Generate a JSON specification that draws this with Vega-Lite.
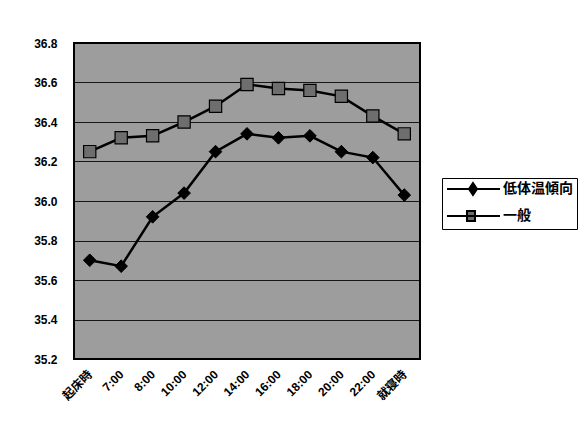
{
  "$schema": "https://vega.github.io/schema/vega-lite/v6.json",
  "autosize": {"type": "none"},
  "padding": {"left": 74, "top": 43, "right": 162, "bottom": 75},
  "width": 346,
  "height": 316,
  "background": "white",
  "config": {
    "view": {"fill": "#9d9d9d", "stroke": "#000000", "strokeWidth": 2},
    "font": "Liberation Sans"
  },
  "data": {
    "values": [
      {"time": "起床時", "series": "低体温傾向", "temp": 35.70},
      {"time": "7:00", "series": "低体温傾向", "temp": 35.67},
      {"time": "8:00", "series": "低体温傾向", "temp": 35.92},
      {"time": "10:00", "series": "低体温傾向", "temp": 36.04},
      {"time": "12:00", "series": "低体温傾向", "temp": 36.25},
      {"time": "14:00", "series": "低体温傾向", "temp": 36.34},
      {"time": "16:00", "series": "低体温傾向", "temp": 36.32},
      {"time": "18:00", "series": "低体温傾向", "temp": 36.33},
      {"time": "20:00", "series": "低体温傾向", "temp": 36.25},
      {"time": "22:00", "series": "低体温傾向", "temp": 36.22},
      {"time": "就寝時", "series": "低体温傾向", "temp": 36.03},
      {"time": "起床時", "series": "一般", "temp": 36.25},
      {"time": "7:00", "series": "一般", "temp": 36.32},
      {"time": "8:00", "series": "一般", "temp": 36.33},
      {"time": "10:00", "series": "一般", "temp": 36.40},
      {"time": "12:00", "series": "一般", "temp": 36.48},
      {"time": "14:00", "series": "一般", "temp": 36.59},
      {"time": "16:00", "series": "一般", "temp": 36.57},
      {"time": "18:00", "series": "一般", "temp": 36.56},
      {"time": "20:00", "series": "一般", "temp": 36.53},
      {"time": "22:00", "series": "一般", "temp": 36.43},
      {"time": "就寝時", "series": "一般", "temp": 36.34}
    ]
  },
  "encoding": {
    "x": {
      "field": "time",
      "type": "nominal",
      "sort": null,
      "scale": {"type": "point", "padding": 0.5},
      "axis": {
        "title": null,
        "labelAngle": -45,
        "labelAlign": "right",
        "labelBaseline": "middle",
        "labelFont": "Liberation Sans, Noto Sans CJK JP",
        "labelFontWeight": "bold",
        "labelFontSize": 12,
        "labelColor": "#000000",
        "labelPadding": 13,
        "labelDx": -7,
        "labelOverlap": false,
        "ticks": false,
        "domain": false,
        "grid": false
      }
    },
    "y": {
      "field": "temp",
      "type": "quantitative",
      "scale": {"domain": [35.2, 36.8], "nice": false, "zero": false},
      "axis": {
        "title": null,
        "values": [35.2, 35.4, 35.6, 35.8, 36.0, 36.2, 36.4, 36.6, 36.8],
        "format": ".1f",
        "labelFont": "Liberation Sans",
        "labelFontWeight": "bold",
        "labelFontSize": 12,
        "labelColor": "#000000",
        "labelPadding": 17,
        "ticks": false,
        "domain": false,
        "grid": true,
        "gridColor": "#000000",
        "gridWidth": 1,
        "gridOpacity": 0.85
      }
    }
  },
  "layer": [
    {
      "mark": {"type": "line", "strokeWidth": 2.5},
      "encoding": {
        "stroke": {
          "field": "series",
          "type": "nominal",
          "scale": {"domain": ["低体温傾向", "一般"], "range": ["#000000", "#000000"]},
          "legend": {
            "title": null,
            "orient": "none",
            "legendX": 368,
            "legendY": 135,
            "strokeColor": "#000000",
            "fillColor": "#ffffff",
            "padding": 4,
            "rowPadding": 8,
            "symbolSize": 144,
            "symbolStrokeWidth": 2,
            "labelFont": "Noto Sans CJK JP",
            "labelFontWeight": "bold",
            "labelFontSize": 14,
            "labelColor": "#000000",
            "labelOffset": 43,
            "encode": {
              "symbols": {
                "update": {
                  "shape": {"signal": "datum.value == '一般' ? 'M-1,0H7.83M2.33,-0.83H3.67V0.83H2.33Z' : 'M-1,0H7.83M3.33,-1L4,0L3.33,1L2.66,0Z'"},
                  "fill": {"signal": "datum.value == '一般' ? '#6e6e6e' : '#000000'"},
                  "stroke": {"value": "#000000"},
                  "strokeWidth": {"value": 2}
                }
              }
            }
          }
        }
      }
    },
    {
      "transform": [{"filter": "datum.series == '低体温傾向'"}],
      "mark": {"type": "point", "shape": "diamond", "filled": true, "fill": "#000000", "stroke": "#000000", "strokeWidth": 1, "opacity": 1, "size": 160}
    },
    {
      "transform": [{"filter": "datum.series == '一般'"}],
      "mark": {"type": "point", "shape": "square", "filled": true, "fill": "#6e6e6e", "stroke": "#000000", "strokeWidth": 1.2, "opacity": 1, "size": 150}
    }
  ]
}
